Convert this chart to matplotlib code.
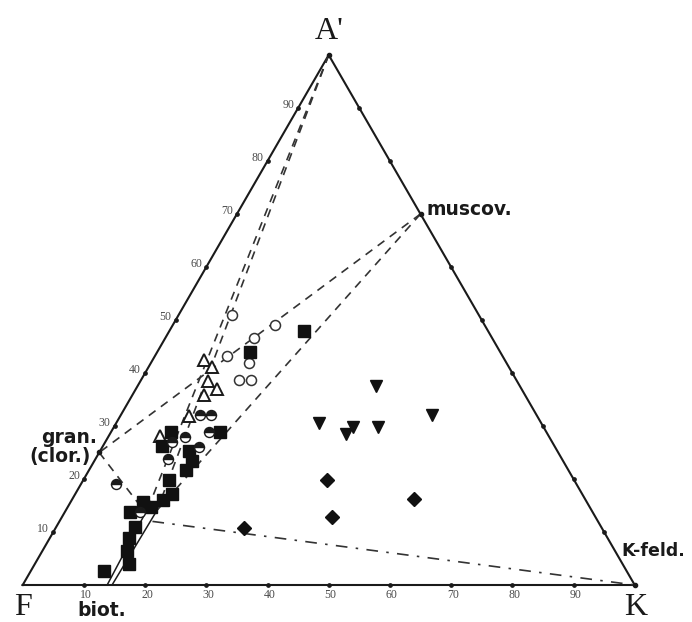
import numpy as np
import matplotlib
matplotlib.use("Agg")
import matplotlib.pyplot as plt

# ---------------- data (A' %, K %; F = 100 - A' - K) ----------------
open_circle_A = [50.9, 49.0, 46.6, 43.2, 41.9, 38.7, 38.7]
open_circle_K = [8.8, 16.7, 14.5, 11.8, 16.0, 16.0, 18.0]

open_tri_A = [42.4, 41.1, 38.4, 36.9, 35.9, 31.9, 28.1]
open_tri_K = [8.5, 10.4, 11.0, 13.3, 11.7, 11.3, 8.4]

half_circle_A = [32.0, 32.0, 28.9, 27.9, 26.9, 26.1, 23.8, 19.1, 13.8]
half_circle_K = [12.9, 14.7, 16.0, 12.6, 10.9, 15.7, 11.8, 5.7, 12.2]

square_A = [48.0, 44.0, 28.8, 28.8, 26.2, 25.3, 23.4, 21.7, 19.9, 17.1,
            16.0, 15.7, 14.7, 13.7, 11.0, 8.8, 6.35, 4.0, 2.7]
square_K = [22.0, 15.1, 9.9, 17.8, 9.7, 14.5, 16.0, 15.9, 13.9, 15.8,
            14.9, 11.8, 13.6, 10.7, 12.8, 13.0, 13.8, 15.3, 12.0]

diamond_A = [10.8, 19.8, 12.8, 16.2]
diamond_K = [30.7, 39.9, 44.1, 55.8]

inv_tri_A = [37.6, 30.5, 29.9, 28.4, 29.8, 32.0]
inv_tri_K = [38.9, 33.1, 39.0, 38.6, 43.1, 50.8]

# mineral compositions (A', K)
apex_pt = (100.0, 0.0)
muscov_pt = (70.0, 30.0)
gran_pt = (25.0, 0.0)
kfeld_pt = (0.0, 100.0)
biot_left = [(0.0, 13.8), (14.7, 13.2)]
biot_right = [(0.0, 14.6), (14.1, 14.9)]
gran_end = (14.2, 12.6)
biot_dd_start = (12.0, 15.2)

tick_values = [10, 20, 30, 40, 50, 60, 70, 80, 90]
tick_labels = ["10", "20", "30", "40", "50", "60", "70", "80", "90"]

# ---------------- helpers ----------------
SQ3 = np.sqrt(3) / 2


def tern(a, k):
    a = np.asarray(a, float)
    k = np.asarray(k, float)
    return k + a / 2.0, a * SQ3


S = 6.12          # pixels per percent unit
OX, OY = 22.7, 585.0   # pixel position of F corner


def px(xp, yp):
    return (xp - OX) / S, (OY - yp) / S


fig = plt.figure(figsize=(6.92, 6.22), dpi=100)
ax = fig.add_axes([0, 0, 1, 1])
ax.set_xlim(-OX / S, (692 - OX) / S)
ax.set_ylim((OY - 622) / S, OY / S)
ax.axis("off")

ink = "#1a1a1a"
dash_c = "#333333"

# frame
fx, fy = tern([0, 0, 100, 0], [0, 100, 0, 0])
ax.plot(fx, fy, color=ink, lw=1.5, zorder=2, solid_joinstyle="miter")

# ticks on edges
for v, lab in zip(tick_values, tick_labels):
    # left edge (F-A): A' value
    x, y = tern(v, 0)
    ax.plot(x, y, "o", ms=2.4, color=ink, zorder=3)
    ax.annotate(lab, (x, y), xytext=(-4, 3), textcoords="offset pixels",
                ha="right", va="center", fontsize=8.5, color="#4a4a4a",
                family="Liberation Serif")
    # bottom edge (F-K): K value
    x, y = tern(0, v)
    ax.plot(x, y, "o", ms=2.4, color=ink, zorder=3)
    ax.annotate(lab, (x, y), xytext=(2, -10), textcoords="offset pixels",
                ha="center", va="center", fontsize=8.5, color="#4a4a4a",
                family="Liberation Serif")
    # right edge (A-K)
    x, y = tern(100 - v, v)
    ax.plot(x, y, "o", ms=2.4, color=ink, zorder=3)

for p in [apex_pt, muscov_pt, kfeld_pt, gran_pt]:
    x, y = tern(*p)
    ax.plot(x, y, "o", ms=3, color=ink, zorder=3)


def seg(p, q, **kw):
    x, y = tern([p[0], q[0]], [p[1], q[1]])
    ax.plot(x, y, **kw)


dash = dict(color=dash_c, lw=1.2, ls=(0, (5, 4)), zorder=2)
# A' apex to biotite (double)
seg(apex_pt, biot_left[1], **dash)
seg(apex_pt, biot_right[1], **dash)
# muscovite tie lines
seg(muscov_pt, gran_pt, **dash)
seg(muscov_pt, biot_right[1], **dash)
# chlorite to biotite
seg(gran_pt, gran_end, **dash)
# biotite to K-feldspar (dash-dot)
seg(biot_dd_start, kfeld_pt, color=dash_c, lw=1.2,
    ls=(0, (7, 5, 1.5, 5)), zorder=2)
# biotite double solid line
seg(biot_left[0], biot_left[1], color=ink, lw=1.1, zorder=2)
seg(biot_right[0], biot_right[1], color=ink, lw=1.1, zorder=2)

# ---------------- markers ----------------
x, y = tern(open_circle_A, open_circle_K)
ax.plot(x, y, "o", ms=7.2, mfc="white", mec="#333333", mew=1.1, ls="none", zorder=4)

x, y = tern(open_tri_A, open_tri_K)
ax.plot(x, y, "^", ms=8, mfc="white", mec=ink, mew=1.4, ls="none", zorder=4)

x, y = tern(half_circle_A, half_circle_K)
ax.plot(x, y, "o", ms=7.2, fillstyle="top", mfc=ink, mfcalt="white",
        mec=ink, mew=1.0, ls="none", zorder=5)

x, y = tern(square_A, square_K)
ax.plot(x, y, "s", ms=9.2, mfc="#111111", mec="#111111", ls="none", zorder=4)

x, y = tern(diamond_A, diamond_K)
ax.plot(x, y, "D", ms=7.0, mfc="#111111", mec="#111111", ls="none", zorder=4)

x, y = tern(inv_tri_A, inv_tri_K)
ax.plot(x, y, "v", ms=9.0, mfc="#111111", mec="#111111", ls="none", zorder=4)

# ---------------- labels ----------------
serif = "Liberation Serif"
ax.text(*px(329, 39), "A'", ha="center", va="baseline", fontsize=23,
        family=serif, color=ink)
ax.text(*px(23, 615), "F", ha="center", va="baseline", fontsize=23,
        family=serif, color=ink)
ax.text(*px(636, 615), "K", ha="center", va="baseline", fontsize=23,
        family=serif, color=ink)

bold = dict(fontsize=13.5, fontweight="bold", family="DejaVu Sans", color=ink)
ax.text(*px(426, 215), "muscov.", ha="left", va="baseline", **bold)
ax.text(*px(97, 443), "gran.", ha="right", va="baseline", **bold)
ax.text(*px(91, 462), "(clor.)", ha="right", va="baseline", **bold)
ax.text(*px(621, 556), "K-feld.", ha="left", va="baseline",
        **{**bold, "fontsize": 12.5})
ax.text(*px(77, 616), "biot.", ha="left", va="baseline", **bold)

fig.savefig("out.png", dpi=100)
